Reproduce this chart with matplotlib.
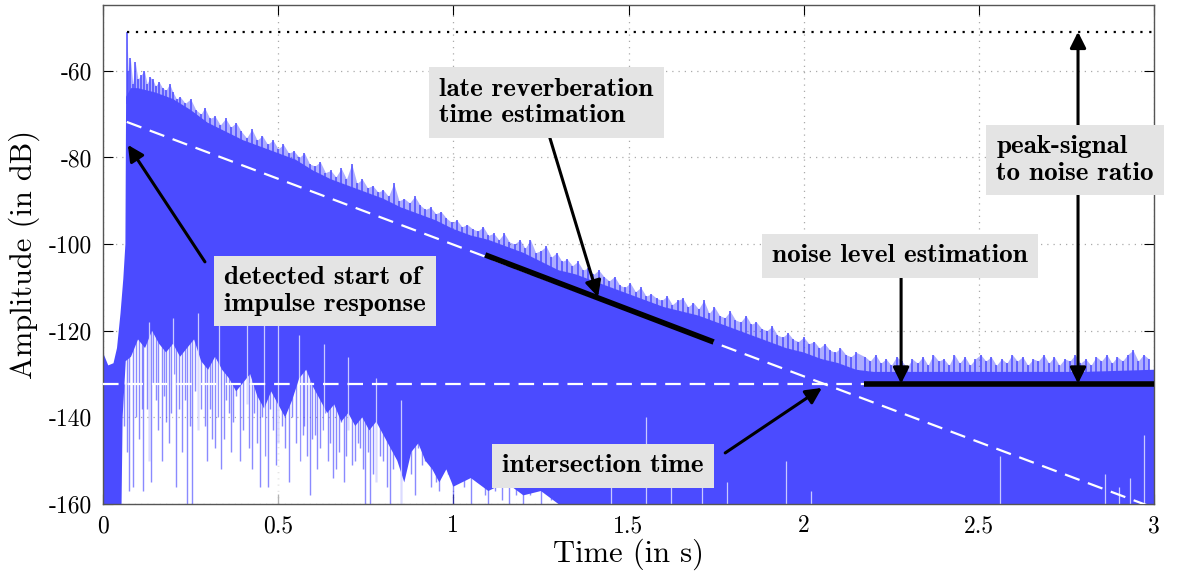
import numpy as np
import matplotlib
matplotlib.use("Agg")
import matplotlib.pyplot as plt

plt.rcParams['font.family'] = ['cmr10', 'DejaVu Serif']
plt.rcParams['axes.unicode_minus'] = False
plt.rcParams['mathtext.fontset'] = 'cm'

# axis ticks
x_ticks = [0, 0.5, 1, 1.5, 2, 2.5, 3]
x_tick_labels = ['0', '0.5', '1', '1.5', '2', '2.5', '3']
y_ticks = [-160, -140, -120, -100, -80, -60]
y_tick_labels = ['-160', '-140', '-120', '-100', '-80', '-60']

# top of the dense (solid) part of the impulse response
body_t = [0.0, 0.015, 0.03, 0.04, 0.05, 0.058, 0.064, 0.066, 0.08, 0.1, 0.15, 0.2, 0.25, 0.3, 0.35,
          0.4, 0.45, 0.5, 0.55, 0.6, 0.65, 0.7, 0.75, 0.8, 0.85, 0.9, 0.95, 1.0, 1.05,
          1.1, 1.15, 1.2, 1.25, 1.3, 1.35, 1.4, 1.45, 1.5, 1.55, 1.6, 1.65, 1.7, 1.75,
          1.8, 1.85, 1.9, 1.95, 2.0, 2.05, 2.1, 2.15, 2.2, 2.4, 2.6, 2.8, 3.0]
body_db = [-125, -128, -127.5, -124, -116, -108, -100, -66, -64, -64, -65, -66.5, -69, -72, -74,
           -76, -77.5, -79, -80.5, -83, -85, -86.5, -88, -89.5, -91.5, -93, -94.5, -96.5, -98,
           -99, -100.5, -102, -104, -106, -107, -108.5, -110, -111.5, -113, -114.5, -115.5, -116.5, -118,
           -119.5, -121, -122.5, -124, -125, -126.5, -127.5, -129, -129.5, -129.5, -129.5, -129.5, -129]

# where the mostly white area below the dense part starts (right to left)
lower_t = [3.0, 1.3, 1.25, 1.2, 1.15, 1.1, 1.05, 1.0, 0.98, 0.96, 0.94, 0.92, 0.9, 0.88, 0.86,
           0.84, 0.82, 0.8, 0.78, 0.76, 0.74, 0.72, 0.7, 0.68, 0.66, 0.64, 0.62, 0.6, 0.58,
           0.56, 0.54, 0.52, 0.5, 0.48, 0.46, 0.44, 0.42, 0.4, 0.38, 0.36, 0.34, 0.32, 0.3,
           0.28, 0.26, 0.24, 0.22, 0.2, 0.18, 0.16, 0.14, 0.12, 0.1, 0.08, 0.065, 0.056,
           0.053, 0.0]
lower_db = [-160, -160, -157, -158, -155, -157, -154, -156, -152, -155, -152, -150, -146, -148, -155,
            -150, -147, -144, -141, -143, -140, -142, -139, -141, -137, -139, -136, -133, -129,
            -131, -136, -140, -137, -134, -138, -135, -130, -132, -134, -131, -129, -126, -129,
            -127, -122, -124, -126, -123, -125, -123, -120, -124, -122, -126, -127, -140,
            -160, -160]

# spikes above the dense part
spike_t = [0.068, 0.072, 0.078, 0.085, 0.092, 0.10, 0.108, 0.118, 0.126, 0.134, 0.142, 0.15, 0.16,
           0.17, 0.18, 0.19, 0.2, 0.21, 0.22, 0.235, 0.25, 0.265, 0.28, 0.29, 0.305, 0.32,
           0.335, 0.35, 0.365, 0.38, 0.395, 0.41, 0.425, 0.44, 0.455, 0.47, 0.485, 0.5, 0.515,
           0.53, 0.545, 0.56, 0.575, 0.59, 0.605, 0.62, 0.635, 0.65, 0.665, 0.68, 0.695, 0.71,
           0.725, 0.74, 0.755, 0.77, 0.785, 0.8, 0.815, 0.83, 0.845, 0.86, 0.875, 0.89, 0.905,
           0.92, 0.935, 0.95, 0.965, 0.98, 0.995, 1.01, 1.025, 1.04, 1.055, 1.07, 1.085, 1.1,
           1.115, 1.13, 1.145, 1.16, 1.175, 1.19, 1.205, 1.22, 1.235, 1.25, 1.265, 1.28, 1.295,
           1.31, 1.325, 1.34, 1.355, 1.37, 1.385, 1.4, 1.415, 1.43, 1.445, 1.46, 1.475, 1.49,
           1.505, 1.52, 1.535, 1.55, 1.565, 1.58, 1.595, 1.61, 1.625, 1.64, 1.655, 1.67, 1.685,
           1.7, 1.715, 1.73, 1.745, 1.76, 1.775, 1.79, 1.805, 1.82, 1.835, 1.85, 1.865, 1.88,
           1.895, 1.91, 1.925, 1.94, 1.955, 1.97, 1.985, 2.0, 2.015, 2.03, 2.045, 2.06, 2.075,
           2.09, 2.105, 2.12, 2.135, 2.15,
           2.175, 2.19, 2.205, 2.22, 2.235, 2.25, 2.265, 2.28, 2.295, 2.31, 2.325, 2.34, 2.355,
           2.37, 2.385, 2.4, 2.415, 2.43, 2.445, 2.46, 2.475, 2.49, 2.505, 2.52, 2.535, 2.55,
           2.565, 2.58, 2.595, 2.61, 2.625, 2.64, 2.655, 2.67, 2.685, 2.7, 2.715, 2.73, 2.745,
           2.76, 2.775, 2.79, 2.805, 2.82, 2.835, 2.85, 2.865, 2.88, 2.895, 2.91, 2.925, 2.94,
           2.955, 2.97, 2.985]
spike_db = [-51, -60, -57, -63, -58, -62, -61, -60, -63, -61.5, -62, -63.5, -62.5,
            -64, -64.5, -63, -65, -66.5, -66, -67.5, -66.5, -69, -70, -68.5, -71, -70.5,
            -72.5, -71, -73, -72, -74, -75.5, -73.5, -76, -75, -77, -76, -78, -77,
            -79, -78.5, -80, -79, -81.5, -82, -81, -83.5, -83, -84.5, -82.5, -85, -81.5,
            -86, -85, -87, -86.5, -88, -87.5, -89, -86, -90, -89.5, -90.5, -89, -91,
            -92, -91.5, -93, -92.5, -94, -95, -94.5, -96, -95.5, -96.5, -97, -96, -98,
            -97.5, -99, -97.5, -99.5, -100, -99, -101, -99, -102, -101.5, -100.5, -103, -102,
            -104, -103.5, -105, -104, -106, -105.5, -107, -106, -107.5, -108.5, -107.5, -109.5, -110,
            -109, -111, -110, -112, -111.5, -112.5, -113, -112, -114, -113, -112.5, -114.5, -113.5,
            -115, -113, -116, -114.5, -116.5, -117, -115.5, -117.5, -118, -116.5, -118.5, -118, -119.5,
            -120, -119, -121, -121.5, -120.5, -122, -122.5, -121.5, -123, -122.5, -124, -123, -124.5,
            -125, -124, -125.5, -126, -125,
            -126, -127, -125.5, -127.5, -126.5, -128, -126, -127, -128.5, -126.5, -127.5, -126, -128,
            -125.5, -127, -126.5, -128, -125.5, -127.5, -126, -128, -126.5, -125.5, -127, -126, -128,
            -126.5, -127.5, -125.5, -127, -126, -128, -126.5, -127, -125.5, -127.5, -126, -128, -126.5,
            -127, -125.5, -127.5, -126.5, -128, -126, -127, -125.5, -127.5, -126, -127, -125.5, -124.5,
            -127, -125.5, -126.5]

# deep dips below the dense part (early reverberation)
dip_t = [0.06, 0.068, 0.075, 0.085, 0.095, 0.104, 0.11, 0.115, 0.125, 0.13, 0.136, 0.143, 0.15,
         0.158, 0.168, 0.175, 0.18, 0.188, 0.195, 0.202, 0.209, 0.217, 0.225, 0.233, 0.241, 0.247,
         0.253, 0.262, 0.27, 0.28, 0.291, 0.298, 0.305, 0.312, 0.32, 0.328, 0.336, 0.344, 0.352,
         0.36, 0.366, 0.372, 0.38, 0.39, 0.4, 0.41, 0.418, 0.425, 0.432, 0.439, 0.447, 0.455,
         0.463, 0.472, 0.478, 0.485, 0.493, 0.5, 0.51, 0.52, 0.53, 0.54, 0.55, 0.563, 0.57,
         0.575, 0.583, 0.591, 0.598, 0.605, 0.612, 0.62, 0.628, 0.635, 0.642, 0.648, 0.656,
         0.665, 0.673, 0.68, 0.687, 0.694, 0.7, 0.71, 0.72, 0.728, 0.735, 0.742, 0.749, 0.756,
         0.763, 0.77, 0.78, 0.79, 0.8, 0.81, 0.82, 0.828, 0.835, 0.85, 0.865, 0.88, 0.89, 0.9,
         0.91, 0.92, 0.935, 0.95, 0.96, 0.97, 0.985, 1.0, 1.01, 1.03, 1.05, 1.07, 1.09, 1.1,
         1.12, 1.14, 1.16, 1.18, 1.2, 1.22, 1.25, 1.28]
dip_db = [-142, -148, -157, -156, -140, -145, -138, -157, -138, -150, -155, -132, -136,
          -143, -150, -135, -141, -146, -139, -130, -156, -138, -148, -136, -160, -142,
          -160, -134, -143, -138, -142, -150, -138, -145, -147, -140, -152, -145, -136,
          -139, -148, -141, -135, -150, -143, -137, -147, -152, -139, -146, -156, -140,
          -149, -156, -138, -143, -151, -146, -142, -147, -155, -140, -146, -150, -144,
          -142, -149, -158, -145, -144, -152, -147, -143, -139, -150, -146, -154, -152,
          -148, -141, -155, -149, -143, -151, -150, -146, -147, -152, -160, -148, -160,
          -153, -155, -149, -150, -156, -160, -152, -148, -160, -145, -153, -158, -147,
          -151, -150, -156, -155, -157, -149, -153, -160, -151, -156, -160, -155, -158, -160,
          -157, -159, -160, -158, -160, -158, -160, -159]

# thin white gaps
gap_t = [0.13, 0.2, 0.27, 0.33, 0.41, 0.46, 0.5, 0.56, 0.63, 0.7, 0.78, 0.85,
         1.45, 1.55, 1.62, 1.71, 1.78, 1.95, 2.02, 2.56, 2.86, 2.9, 2.93, 2.97]
gap_db = [-118, -117, -116, -118, -113, -118, -116, -121, -123, -126, -131, -136,
          -152, -140, -153, -150, -155, -150, -157, -149, -153, -156, -154, -144]

# estimation lines
peak_t = [0.068, 3.0]
peak_db = -51.0
noise_db = -132.2
noise_t = [2.172, 3.0]
decay_t = [0.068, 3.0]
decay_db = [-71.8, -160.9]
fit_t = [1.091, 1.743]
fit_db = [-102.5, -122.6]
cross_t = 2.052

blue = '#4b4bff'

fig = plt.figure(figsize=(11.77, 5.71), dpi=100)
ax = fig.add_axes([0.0875, 0.1173, 0.893, 0.874])

# signal
ax.fill(np.r_[body_t, lower_t], np.r_[body_db, lower_db], color=blue, lw=0, zorder=2)
body_at_spikes = np.interp(spike_t, body_t, body_db)
ax.fill_between(spike_t, body_at_spikes, spike_db, color=blue, alpha=0.45, lw=0, zorder=2)
ax.vlines(spike_t, body_at_spikes - 2, spike_db, color=blue, lw=1.1, zorder=2)
dip_top = np.interp(dip_t, lower_t[::-1], lower_db[::-1]) + 2
ax.vlines(dip_t, dip_db, dip_top, color=blue, lw=1.0, alpha=0.65, zorder=2)
ax.vlines(gap_t, -160, gap_db, color='white', lw=0.9, alpha=0.7, zorder=2)

# reference lines
ax.plot(peak_t, [peak_db, peak_db], color='k', ls=(0, (1, 3)), lw=1.6, zorder=3)
ax.plot(decay_t, decay_db, color='white', ls=(0, (7, 4)), lw=1.6, zorder=3)
ax.plot([0, noise_t[0]], [noise_db, noise_db], color='white', ls=(0, (7, 4)), lw=1.6, zorder=3)
ax.plot(fit_t, fit_db, color='k', lw=4, solid_capstyle='butt', zorder=4)
ax.plot(noise_t, [noise_db, noise_db], color='k', lw=4, solid_capstyle='butt', zorder=4)

# annotations
box = dict(boxstyle='square,pad=0.38', fc='#e4e4e4', ec='none')
arrow = dict(arrowstyle='-|>', color='k', lw=2.2, mutation_scale=24, shrinkA=0, shrinkB=0)
tfont = dict(family=['cmb10', 'DejaVu Serif'], fontsize=19.5, zorder=6)

ax.annotate('', xy=(0.071, -77.1), xytext=(0.291, -104.1), arrowprops=arrow, zorder=5)
ax.text(0.634, -110.8, 'detected start of\nimpulse response', ha='center', va='center',
        multialignment='left', linespacing=1.2, bbox=box, **tfont)

ax.annotate('', xy=(1.413, -112.2), xytext=(1.27, -74.0), arrowprops=arrow, zorder=5)
ax.text(1.265, -67.3, 'late reverberation\ntime estimation', ha='center', va='center',
        multialignment='left', linespacing=1.2, bbox=box, **tfont)

ax.annotate('', xy=(2.278, noise_db), xytext=(2.278, -106.0), arrowprops=arrow, zorder=5)
ax.text(2.275, -102.7, 'noise level estimation', ha='center', va='center', bbox=box, **tfont)

ax.annotate('', xy=(2.783, peak_db), xytext=(2.783, -74.0), arrowprops=arrow, zorder=5)
ax.annotate('', xy=(2.783, noise_db), xytext=(2.783, -87.0), arrowprops=arrow, zorder=5)
ax.text(2.775, -80.6, 'peak-signal\nto noise ratio', ha='center', va='center',
        multialignment='left', linespacing=1.2, bbox=box, clip_on=False, **tfont)

ax.annotate('', xy=(cross_t, -133.2), xytext=(1.776, -148.2), arrowprops=arrow, zorder=5)
ax.text(1.427, -151.2, 'intersection time', ha='center', va='center', bbox=box, **tfont)

ax.set_xlim(0, 3)
ax.set_ylim(-160, -44.8)
ax.set_xticks(x_ticks)
ax.set_xticklabels(x_tick_labels)
ax.set_yticks(y_ticks)
ax.set_yticklabels(y_tick_labels)
ax.tick_params(direction='in', length=7, top=True, right=True, labelsize=17, pad=8)
ax.grid(True, ls=(0, (1, 4)), color='#aaaaaa', lw=0.9, zorder=1)
ax.set_axisbelow(True)
for s in ax.spines.values():
    s.set_color('#555555')
    s.set_linewidth(1.0)

ax.set_xlabel('Time (in s)', fontsize=22, labelpad=1)
ax.set_ylabel('Amplitude (in dB)', fontsize=22, labelpad=6)

fig.savefig('out.png', dpi=100)
